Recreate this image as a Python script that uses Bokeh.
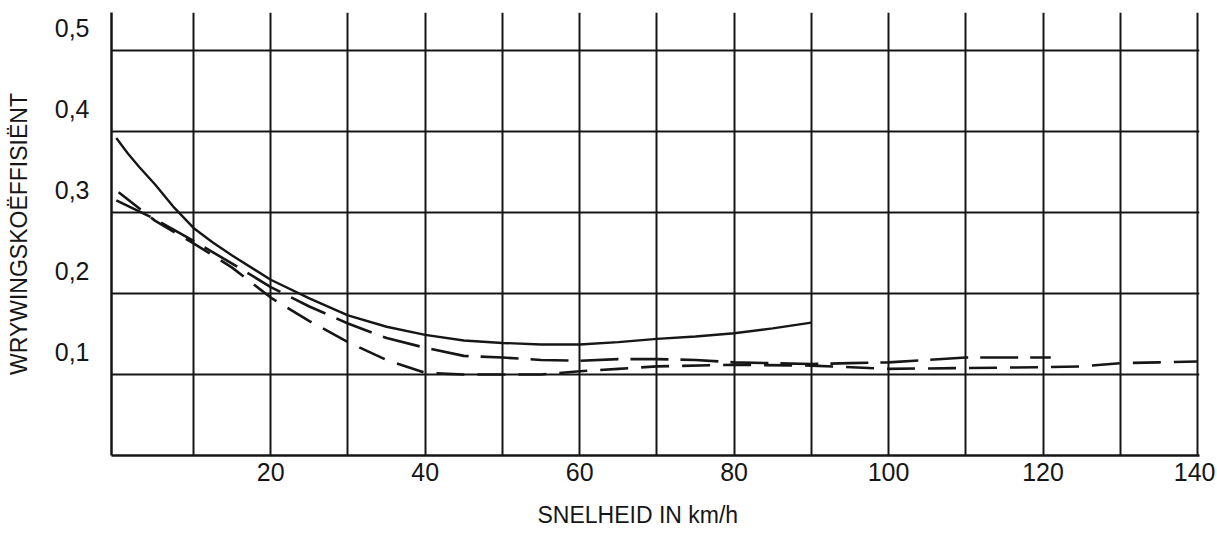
from bokeh.plotting import figure
from bokeh.models import FixedTicker, Range1d, Title
from bokeh.embed import file_html
from bokeh.resources import INLINE

# ---- data ----
x_tick_values = [20, 40, 60, 80, 100, 120, 140]
x_tick_labels = ["20", "40", "60", "80", "100", "120", "140"]
x_grid_values = [10, 20, 30, 40, 50, 60, 70, 80, 90, 100, 110, 120, 130, 140]
y_grid_values = [0.1, 0.2, 0.3, 0.4, 0.5]
y_tick_labels = ["0,1", "0,2", "0,3", "0,4", "0,5"]

# solid curve
solid_x = [0, 1.5, 3, 5, 7.5, 10, 12.5, 15, 20, 25, 30, 35, 40, 45, 50, 55, 60, 65,
           70, 75, 80, 85, 90]
solid_y = [0.392, 0.373, 0.356, 0.335, 0.306, 0.281, 0.263, 0.247, 0.217, 0.194,
           0.173, 0.159, 0.149, 0.142, 0.139, 0.137, 0.137, 0.140, 0.144, 0.147,
           0.151, 0.157, 0.164]

# medium-dash curve
mdash_x = [0, 5, 10, 15, 20, 25, 30, 35, 40, 45, 50, 55, 60, 65, 70, 75, 80, 85, 90,
           95, 100, 105, 110, 115, 121]
mdash_y = [0.315, 0.292, 0.265, 0.237, 0.208, 0.184, 0.163, 0.145, 0.133, 0.123, 0.121,
           0.118, 0.117, 0.119, 0.119, 0.118, 0.115, 0.114, 0.113, 0.114, 0.115, 0.118,
           0.121, 0.121, 0.121]

# long-dash curve
ldash_x = [0.3, 5, 10, 15, 20, 25, 30, 35, 40, 45, 50, 55, 60, 65, 70, 80, 90, 100,
           110, 120, 125, 130, 135, 140]
ldash_y = [0.325, 0.290, 0.262, 0.232, 0.195, 0.166, 0.140, 0.118, 0.102, 0.100, 0.100,
           0.100, 0.104, 0.107, 0.110, 0.112, 0.111, 0.107, 0.108, 0.109, 0.110, 0.114,
           0.115, 0.116]

INK = "#161616"
FONT = "Liberation Sans"

p = figure(width=1215, height=546,
           x_range=Range1d(-0.62, 140.26), y_range=Range1d(0, 0.547),
           output_backend="svg", toolbar_location=None,
           min_border_left=111, min_border_right=16,
           min_border_top=12, min_border_bottom=91)
p.outline_line_color = None
p.background_fill_color = "white"
p.border_fill_color = "white"

# grid
p.xgrid.ticker = FixedTicker(ticks=x_grid_values)
p.ygrid.ticker = FixedTicker(ticks=y_grid_values)
for g in (p.xgrid, p.ygrid):
    g.grid_line_color = INK
    g.grid_line_width = 2
    g.grid_line_alpha = 1.0

# x axis
p.xaxis.ticker = FixedTicker(ticks=x_tick_values)
p.xaxis.major_label_overrides = {v: s for v, s in zip(x_tick_values, x_tick_labels)}
# y axis labels sit a little above their grid lines
y_label_pos = [round(v + 0.028, 4) for v in y_grid_values]
p.yaxis.ticker = FixedTicker(ticks=y_label_pos)
p.yaxis.major_label_overrides = {v: s for v, s in zip(y_label_pos, y_tick_labels)}

for ax in (p.xaxis, p.yaxis):
    ax.axis_line_color = INK
    ax.axis_line_width = 2.5
    ax.major_tick_line_color = None
    ax.minor_tick_line_color = None
    ax.major_label_text_font = FONT
    ax.major_label_text_font_size = "25px"
    ax.major_label_text_font_style = "normal"
    ax.major_label_text_color = INK
p.xaxis.major_label_standoff = 1
p.yaxis.major_label_standoff = 16

p.yaxis.axis_label = "WRYWINGSKOËFFISIËNT"
p.yaxis.axis_label_text_font = FONT
p.yaxis.axis_label_text_font_size = "23px"
p.yaxis.axis_label_text_font_style = "normal"
p.yaxis.axis_label_text_color = INK
p.yaxis.axis_label_standoff = 20

# curves
p.line(solid_x, solid_y, line_color=INK, line_width=2.4)
p.line(mdash_x, mdash_y, line_color=INK, line_width=2.6, line_dash="38 12")
p.line(ldash_x, ldash_y, line_color=INK, line_width=2.6, line_dash="28 13")

# x axis title (placed left of centre, as in the reference)
p.add_layout(Title(text="SNELHEID IN km/h", align="left", offset=426,
                   text_font=FONT, text_font_size="23px", text_font_style="normal",
                   text_color=INK, standoff=33), "below")

open("out.html", "w").write(file_html(p, INLINE))
